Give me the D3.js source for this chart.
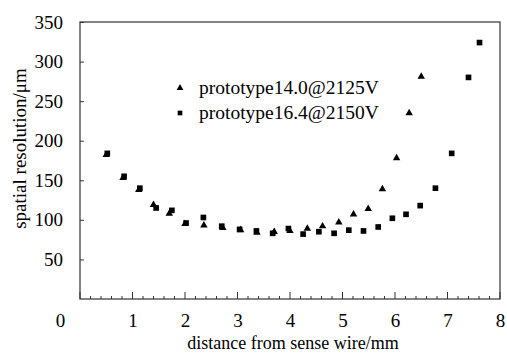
<html>
<head>
<script src="https://d3js.org/d3.v7.min.js"></script>
<style>
  body { margin: 0; background: #fff; }
  svg text { font-family: "Liberation Serif", "DejaVu Serif", serif !important; fill: #000; }
</style>
</head>
<body>
<svg id="chart" width="507" height="355"></svg>
<script>
// data
const triX = [0.50, 0.82, 1.12, 1.40, 1.70, 2.00, 2.36, 2.72, 3.06, 3.37, 3.70, 4.00, 4.33, 4.62, 4.93, 5.21, 5.49, 5.76, 6.03, 6.27, 6.50];
const triY = [182, 153, 138, 119, 108, 95, 93, 90, 87, 84, 85, 86, 89, 92, 97, 107, 114, 139, 178, 235, 281];
const sqX = [0.52, 0.84, 1.14, 1.45, 1.75, 2.02, 2.35, 2.70, 3.04, 3.36, 3.67, 3.97, 4.25, 4.55, 4.84, 5.12, 5.40, 5.68, 5.95, 6.21, 6.48, 6.77, 7.08, 7.40, 7.61];
const sqY = [184, 155, 140, 115, 112, 96, 103, 92, 88, 86, 83, 89, 82, 85, 83, 87, 86, 91, 102, 107, 118, 140, 184, 280, 324];
const seriesNames = ["prototype14.0@2125V", "prototype16.4@2150V"];
const xTicks = [0, 1, 2, 3, 4, 5, 6, 7, 8];
const yTicks = [50, 100, 150, 200, 250, 300, 350];

const svg = d3.select("#chart");
const m = { left: 80, right: 500, top: 22, bottom: 299 };

const x = d3.scaleLinear().domain([0, 8]).range([m.left, m.right]);
const y = d3.scaleLinear().domain([0, 350]).range([m.bottom, m.top]);

// frame
svg.append("rect")
  .attr("x", m.left).attr("y", m.top)
  .attr("width", m.right - m.left).attr("height", m.bottom - m.top)
  .attr("fill", "none").attr("stroke", "#333").attr("stroke-width", 1.2);

// x axis: minor ticks inside, labels below
const minor = d3.range(0, 8.001, 0.2);
svg.append("g").selectAll("line").data(minor).join("line")
  .attr("x1", d => x(d)).attr("x2", d => x(d))
  .attr("y1", m.bottom)
  .attr("y2", d => Math.abs(d - Math.round(d)) < 0.01 ? m.bottom - 7 : m.bottom - 3)
  .attr("stroke", "#333").attr("stroke-width", 1);

const xAxis = svg.append("g")
  .attr("transform", "translate(0," + m.bottom + ")")
  .call(d3.axisBottom(x).tickValues(xTicks).tickSize(0).tickPadding(15).tickFormat(d3.format("d")));
xAxis.attr("font-family", null).attr("font-size", null);
xAxis.select(".domain").remove();
xAxis.selectAll("text").style("font-size", "19px");
xAxis.selectAll(".tick").filter(d => d === 0).select("text").attr("dx", -20);

// y axis
const yAxis = svg.append("g")
  .attr("transform", "translate(" + m.left + ",0)")
  .call(d3.axisLeft(y).tickValues(yTicks).tickSize(-4).tickPadding(17));
yAxis.attr("font-family", null).attr("font-size", null);
yAxis.select(".domain").remove();
yAxis.selectAll("line").attr("stroke", "#333");
yAxis.selectAll("text").style("font-size", "19px");

// titles
svg.append("text")
  .attr("x", (m.left + m.right) / 2 + 3).attr("y", 349)
  .attr("text-anchor", "middle").style("font-size", "18px")
  .text("distance from sense wire/mm");
svg.append("text")
  .attr("transform", "translate(26," + ((m.top + m.bottom) / 2 - 12) + ") rotate(-90)")
  .attr("text-anchor", "middle").style("font-size", "19px")
  .text("spatial resolution/\u03bcm");

// markers
const tri = d3.symbol().type(d3.symbolTriangle).size(24);
const sq = d3.symbol().type(d3.symbolSquare).size(32);

svg.append("g").selectAll("path").data(triX).join("path")
  .attr("d", tri)
  .attr("transform", (d, i) => "translate(" + x(d) + "," + y(triY[i]) + ")")
  .attr("fill", "#000");

svg.append("g").selectAll("path").data(sqX).join("path")
  .attr("d", sq)
  .attr("transform", (d, i) => "translate(" + x(d) + "," + y(sqY[i]) + ")")
  .attr("fill", "#000");

// legend
const legendSyms = [d3.symbol().type(d3.symbolTriangle).size(20), d3.symbol().type(d3.symbolSquare).size(22)];
const legend = svg.append("g");
legendSyms.forEach((sym, i) => {
  legend.append("path").attr("d", sym)
    .attr("transform", "translate(180," + (88 + i * 25) + ")")
    .attr("fill", "#000");
  legend.append("text")
    .attr("x", 199).attr("y", 94 + i * 25)
    .style("font-size", "19.5px")
    .text(seriesNames[i]);
});
</script>
</body>
</html>
